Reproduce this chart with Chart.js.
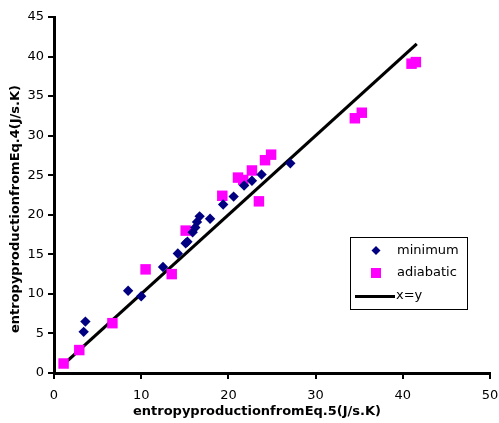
<!DOCTYPE html>
<html>
<head>
<meta charset="utf-8">
<script src="https://cdn.jsdelivr.net/npm/chart.js@4/dist/chart.umd.min.js"></script>
<style>
  html, body { margin: 0; padding: 0; background: #fff; }
  #wrap { width: 499px; height: 423px; }
</style>
</head>
<body>
<div id="wrap"><canvas id="graph"></canvas></div>
<script>
/****** Data ******/
const minimumX = [3.4, 3.6, 8.5, 10.0, 12.5, 14.2, 15.1, 15.3, 15.9, 16.2, 16.4, 16.7, 17.9, 19.4, 20.6, 21.8, 22.7, 23.8, 27.1];
const minimumY = [5.2, 6.5, 10.4, 9.7, 13.4, 15.1, 16.4, 16.6, 17.8, 18.4, 19.1, 19.8, 19.5, 21.3, 22.3, 23.7, 24.3, 25.1, 26.5];

const adiabaticX = [1.1, 2.9, 6.7, 10.5, 13.5, 15.1, 19.3, 21.1, 21.7, 22.7, 23.5, 24.2, 24.9, 34.5, 35.3, 41.0, 41.5];
const adiabaticY = [1.2, 2.9, 6.3, 13.1, 12.5, 18.0, 22.4, 24.7, 24.4, 25.6, 21.7, 26.9, 27.6, 32.2, 32.9, 39.1, 39.3];

const lineX = [1.0, 41.6];
const lineY = [1.0, 41.6];

const seriesNames = ["minimum", "adiabatic", "x=y"];
const xTitle = "entropyproductionfromEq.5(J/s.K)";
const yTitle = "entropyproductionfromEq.4(J/s.K)";

const pts = (xs, ys) => xs.map((x, i) => ({ x: x, y: ys[i] }));

const FONT = "'DejaVu Sans', sans-serif";

/****** Titles + legend (drawn on the canvas) ******/
const decorPlugin = {
    id: 'decor',
    afterDraw(chart) {
        const ctx = chart.ctx;
        ctx.save();
        ctx.fillStyle = '#000';
        ctx.font = "bold 13px " + FONT;
        ctx.textAlign = 'center';
        ctx.textBaseline = 'middle';
        ctx.fillText(xTitle, 257, 412);
        ctx.translate(16, 209);
        ctx.rotate(-Math.PI / 2);
        ctx.fillText(yTitle, 0, 0);
        ctx.restore();

        // legend box
        ctx.save();
        ctx.strokeStyle = '#000';
        ctx.lineWidth = 1;
        ctx.strokeRect(350.5, 237.5, 117, 72);
        ctx.font = "13px " + FONT;
        ctx.fillStyle = '#000';
        ctx.textAlign = 'left';
        ctx.textBaseline = 'middle';

        const ds = chart.data.datasets;
        // diamond
        ctx.fillStyle = ds[0].backgroundColor;
        ctx.beginPath();
        ctx.moveTo(376, 246); ctx.lineTo(380.5, 250.5);
        ctx.lineTo(376, 255); ctx.lineTo(371.5, 250.5);
        ctx.closePath(); ctx.fill();
        // square
        ctx.fillStyle = ds[1].backgroundColor;
        ctx.fillRect(371, 268, 10, 10);
        // line
        ctx.strokeStyle = ds[2].borderColor;
        ctx.lineWidth = 3;
        ctx.beginPath(); ctx.moveTo(355, 296.5); ctx.lineTo(395, 296.5); ctx.stroke();

        ctx.fillStyle = '#000';
        ctx.fillText(seriesNames[0], 397, 251);
        ctx.fillText(seriesNames[1], 397, 273);
        ctx.fillText(seriesNames[2], 396, 296);
        ctx.restore();
    }
};

/****** Graph ******/
const config = {
    type: 'scatter',
    data: {
        datasets: [
            {
                label: seriesNames[0],
                data: pts(minimumX, minimumY),
                pointStyle: 'rectRot',
                pointRadius: 5.2,
                pointHoverRadius: 5.2,
                borderWidth: 0,
                backgroundColor: '#000080',
                borderColor: '#000080',
                order: 1
            },
            {
                label: seriesNames[1],
                data: pts(adiabaticX, adiabaticY),
                pointStyle: 'rect',
                pointRadius: 7.4,
                pointHoverRadius: 7.4,
                borderWidth: 0,
                backgroundColor: '#ff00ff',
                borderColor: '#ff00ff',
                order: 2
            },
            {
                label: seriesNames[2],
                type: 'line',
                data: pts(lineX, lineY),
                showLine: true,
                borderColor: '#000',
                backgroundColor: '#000',
                borderWidth: 3.2,
                pointRadius: 0,
                fill: false,
                order: 3
            }
        ]
    },
    options: {
        responsive: true,
        maintainAspectRatio: false,
        animation: false,
        events: [],
        layout: {
            padding: { top: 17, right: 0, left: 0, bottom: 0 }
        },
        plugins: {
            legend: { display: false },
            tooltip: { enabled: false }
        },
        scales: {
            x: {
                type: 'linear',
                min: 0,
                max: 50,
                afterFit: s => { s.height = 50; s.paddingRight = 9; s.paddingLeft = 0; },
                border: { color: '#000', width: 3 },
                grid: {
                    display: true,
                    drawOnChartArea: false,
                    drawTicks: true,
                    tickLength: 6,
                    color: '#000',
                    lineWidth: 2
                },
                ticks: {
                    stepSize: 10,
                    padding: 9,
                    color: '#000',
                    font: { family: FONT, size: 13 },
                    maxRotation: 0
                }
            },
            y: {
                type: 'linear',
                min: 0,
                max: 45,
                afterFit: s => { s.width = 54; },
                border: { color: '#000', width: 3 },
                grid: {
                    display: true,
                    drawOnChartArea: false,
                    drawTicks: true,
                    tickLength: 6,
                    color: '#000',
                    lineWidth: 2
                },
                ticks: {
                    stepSize: 5,
                    padding: 4,
                    color: '#000',
                    font: { family: FONT, size: 13 }
                }
            }
        }
    },
    plugins: [decorPlugin]
};

const graph = new Chart(document.getElementById('graph'), config);
</script>
</body>
</html>
